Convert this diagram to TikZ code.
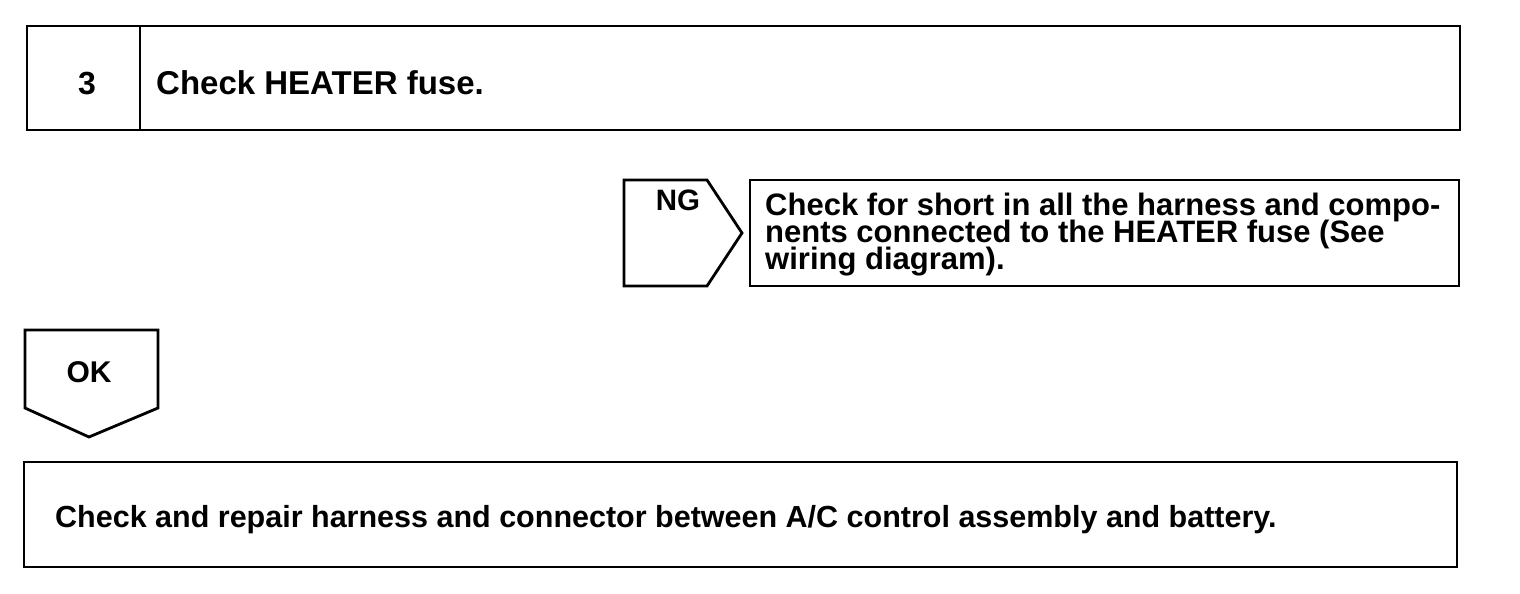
\documentclass[tikz,border=0pt]{standalone}
\usepackage{fontspec}
\setmainfont{Liberation Sans}
\usepackage{tikz}
\usetikzlibrary{positioning,calc}
\tikzstyle{frame}= [draw, line width=2.8pt, line join=miter]
\tikzstyle{lbl}= [inner sep=0pt, font=\bfseries]
\newcommand{\tightlines}{\lineskiplimit=-50pt\relax}

\begin{document}
\begin{tikzpicture}[x=1pt, y=-1pt]
				\useasboundingbox[fill=white] (0,0) rectangle (1520,594);
				
				\draw[frame] (27,26) rectangle (1460,130);
				\draw[frame] (140,26) -- (140,130);
				\node[lbl, anchor=base] (num3) at (87,95) {\fontsize{32}{32}\selectfont 3};
				\node[lbl, anchor=base west] (fuse) at (156,95) {\fontsize{33}{32}\selectfont Check HEATER fuse.};
				
				\draw[frame] (624,180) -- (707,180) -- (742,233) -- (707,286) -- (624,286) -- cycle;
				\node[lbl, anchor=base] (ng) at (678,210) {\fontsize{29.5}{29}\selectfont NG};
				\draw[frame] (750,180) rectangle (1459,286);
				\node[lbl, anchor=base west, align=left, font={\bfseries\fontsize{31}{27}\selectfont\tightlines}] (short) at (765,269)
					{Check for short in all the harness and compo-\\
					nents connected to the HEATER fuse (See\\
					wiring diagram).};
				
				\draw[frame] (25,330) -- (158,330) -- (158,408) -- (89,437) -- (25,408) -- cycle;
				\node[lbl, anchor=base] (ok) at (89,382) {\fontsize{30}{30}\selectfont OK};
				
				\draw[frame] (24,462) rectangle (1457,567);
				\node[lbl, anchor=base west] (repair) at (55,527) {\fontsize{30.5}{30}\selectfont Check and repair harness and connector between A/C control assembly and battery.};
			\end{tikzpicture}
\end{document}
